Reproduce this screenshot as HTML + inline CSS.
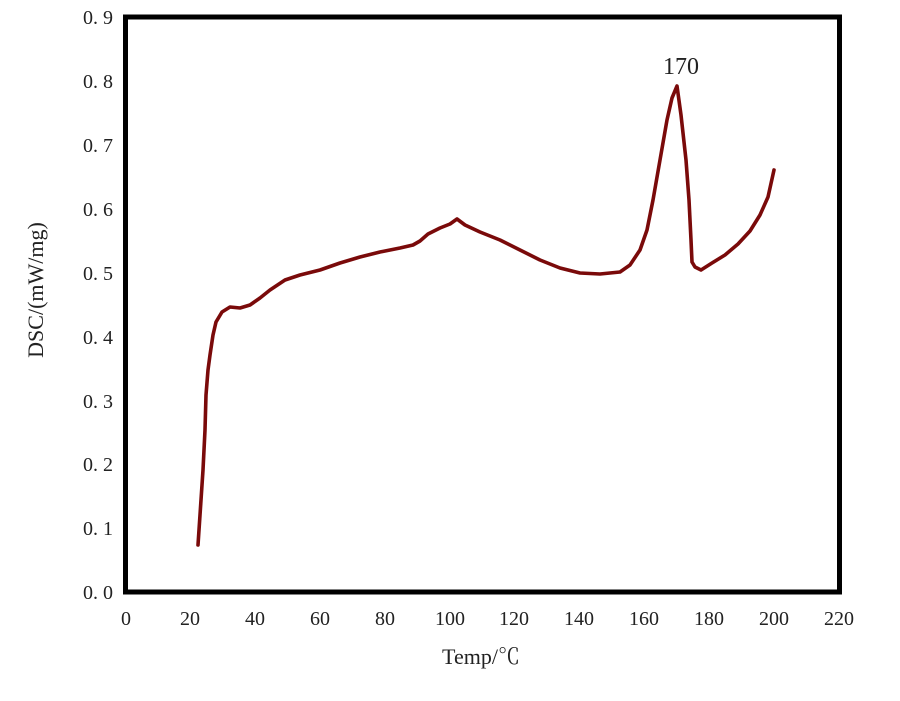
<!DOCTYPE html>
<html><head><meta charset="utf-8"><style>
html,body{margin:0;padding:0;background:#fff;}
svg text{font-family:"Liberation Serif","Noto Serif CJK SC",serif;fill:#222;}
</style></head><body>
<svg width="900" height="696" viewBox="0 0 900 696" xmlns="http://www.w3.org/2000/svg">
<rect x="125.5" y="17" width="714" height="575" fill="none" stroke="#000" stroke-width="5"/>
<g font-size="20" text-anchor="end">
<text x="113" y="24">0. 9</text>
<text x="113" y="88">0. 8</text>
<text x="113" y="152">0. 7</text>
<text x="113" y="216">0. 6</text>
<text x="113" y="280">0. 5</text>
<text x="113" y="344">0. 4</text>
<text x="113" y="408">0. 3</text>
<text x="113" y="471">0. 2</text>
<text x="113" y="535">0. 1</text>
<text x="113" y="599">0. 0</text>
</g>
<g font-size="20" text-anchor="middle">
<text x="126" y="625">0</text>
<text x="190" y="625">20</text>
<text x="255" y="625">40</text>
<text x="320" y="625">60</text>
<text x="385" y="625">80</text>
<text x="450" y="625">100</text>
<text x="514" y="625">120</text>
<text x="579" y="625">140</text>
<text x="644" y="625">160</text>
<text x="709" y="625">180</text>
<text x="774" y="625">200</text>
<text x="839" y="625">220</text>
</g>
<text x="481" y="664" font-size="22" text-anchor="middle">Temp/℃</text>
<text transform="translate(43,290) rotate(-90)" font-size="22" text-anchor="middle">DSC/(mW/mg)</text>
<text x="681" y="74" font-size="24" text-anchor="middle">170</text>
<polyline fill="none" stroke="#7a0a0a" stroke-width="3.6" stroke-linejoin="round" stroke-linecap="round"
points="198,545 201,500 203,470 205,430 206,395 208,370 210,355 213,335 216,322 222,312 230,307 240,308 250,305 260,298 270,290 285,280 300,275 320,270 340,263 360,257 380,252 400,248 413,245 420,241 428,234 440,228 450,224 457,219 465,225 480,232 500,240 520,250 540,260 560,268 580,273 600,274 620,272 630,265 640,250 647,230 653,200 660,160 667,120 672,98 677,86 681,115 686,160 689,200 691,240 692,262 695,267 701,270 712,263 725,255 738,244 750,231 760,215 768,197 774,170"/>
</svg>
</body></html>
